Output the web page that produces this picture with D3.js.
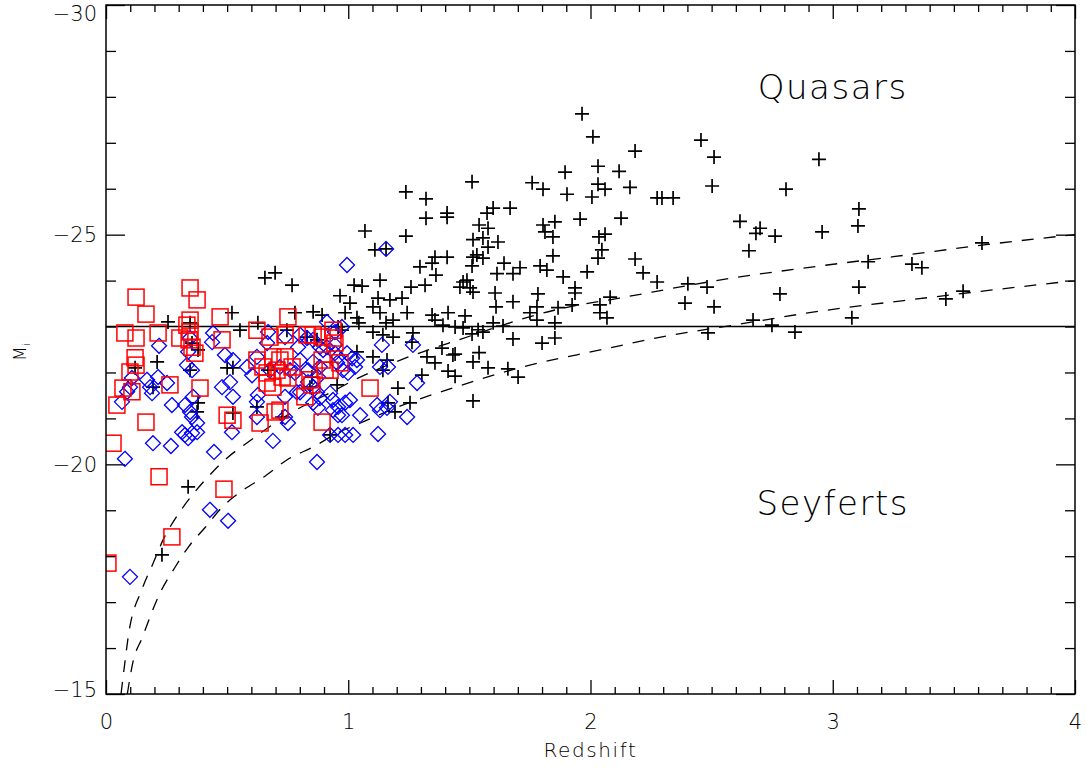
<!DOCTYPE html>
<html>
<head>
<meta charset="utf-8">
<script src="https://cdn.jsdelivr.net/npm/d3@7"></script>
<style>
  body { margin: 0; background: #fff; }
  text { font-family: "DejaVu Sans", sans-serif; font-weight: 200; fill: #000; }
  .axis text { font-size: 21px; }
  .axis path { display: none; }
  .axis line { stroke: #000; stroke-width: 1.3; }
</style>
</head>
<body>
<div id="chart"></div>
<script>
// redshift / absolute magnitude pairs [z, Mi]
var quasars = [
  [1.965,-27.63],[2.010,-27.13],[2.184,-26.82],[2.456,-27.06],[2.510,-26.69],[2.943,-26.64],
  [1.895,-26.36],[2.031,-26.49],[2.118,-26.38],[2.031,-26.10],[2.060,-25.99],[2.163,-26.03],
  [2.502,-26.06],[2.807,-25.99],[1.903,-25.88],[2.006,-25.82],[2.275,-25.80],[2.295,-25.80],
  [2.341,-25.80],[1.957,-25.34],[2.126,-25.36],[2.617,-25.29],[2.700,-25.14],[2.683,-25.03],
  [2.762,-24.97],[2.035,-24.95],[2.060,-25.01],[2.047,-24.67],[2.031,-24.49],[2.184,-24.47],
  [2.654,-24.65],[1.887,-24.08],[1.986,-24.19],[2.217,-24.17],[2.275,-23.97],[1.936,-23.84],
  [1.936,-23.73],[2.402,-23.93],[2.481,-23.86],[2.081,-23.64],[1.924,-23.47],[2.039,-23.47],
  [2.782,-23.71],[2.390,-23.51],[2.510,-23.43],[2.039,-23.30],[2.068,-23.19],[2.671,-23.14],
  [2.749,-23.03],[2.485,-22.86],[2.844,-22.88],
  [3.108,-25.56],[3.104,-25.19],[2.956,-25.06],[3.616,-24.82],[3.146,-24.41],[3.327,-24.36],
  [3.368,-24.28],[3.108,-23.86],[3.538,-23.77],[3.467,-23.60],[3.079,-23.19],
  [1.511,-26.15],[1.759,-26.13],[1.804,-25.99],[1.408,-25.47],[1.408,-25.38],[1.598,-25.58],
  [1.573,-25.47],[1.668,-25.58],[1.540,-25.21],[1.577,-25.14],[1.515,-24.89],[1.556,-24.93],
  [1.618,-24.84],[1.577,-24.73],[1.804,-25.21],[1.853,-25.28],[1.812,-25.06],[1.845,-24.95],
  [1.408,-24.51],[1.515,-24.51],[1.531,-24.56],[1.556,-24.49],[1.511,-24.32],[1.845,-24.54],
  [1.643,-24.38],[1.709,-24.28],[1.614,-24.15],[1.680,-24.15],[1.792,-24.32],[1.820,-24.23],
  [1.474,-23.97],[1.503,-23.84],[1.515,-23.75],[1.461,-23.86],[1.606,-23.73],[1.783,-23.71],
  [1.680,-23.54],[1.610,-23.43],[1.412,-23.30],[1.482,-23.23],[1.779,-23.43],[1.866,-23.41],
  [1.750,-23.30],[1.598,-23.08],[1.639,-23.01],[1.779,-23.14],[1.853,-23.08],[1.391,-23.03],
  [1.441,-22.99],[1.474,-22.97],[1.536,-22.93],[1.556,-22.88],[1.511,-22.84],[1.680,-22.73],
  [1.853,-22.75],[1.800,-22.64],[1.441,-22.40],[1.387,-22.53],[1.540,-22.43],[1.515,-22.23],
  [1.577,-22.10],[1.659,-22.08],[1.701,-21.90],[1.412,-22.03],[1.441,-21.92],[1.515,-21.38],
  [1.238,-25.93],[1.321,-25.78],[1.321,-25.36],[1.069,-25.08],[1.238,-24.97],[1.110,-24.67],
  [1.156,-24.69],[1.296,-24.30],[1.346,-24.38],[1.358,-24.51],[1.362,-24.12],[1.490,-24.01],
  [1.024,-23.90],[1.057,-23.88],[1.131,-24.01],[0.966,-23.67],[1.007,-23.51],[1.259,-23.86],
  [1.317,-23.90],[1.123,-23.62],[1.172,-23.58],[1.222,-23.62],[1.102,-23.43],[1.131,-23.30],
  [1.243,-23.30],[0.987,-23.30],[1.036,-23.19],[1.044,-23.08],[1.346,-23.25],[1.358,-23.14],
  [1.156,-23.08],[1.185,-23.14],[1.102,-22.88],[1.143,-22.82],[1.185,-22.77],[1.267,-22.86],
  [1.263,-22.66],[0.958,-22.99],
  [0.768,-23.90],[0.780,-23.30],[0.855,-23.32],[0.892,-23.25],[0.747,-22.92],[0.830,-22.77],
  [0.871,-22.71],[0.974,-22.92],[1.325,-22.34],[1.358,-22.21],[1.432,-22.38],[1.036,-22.45],
  [1.102,-22.34],[1.160,-22.27],[1.143,-22.05],[1.304,-21.94],[1.205,-21.66],[1.255,-21.34],
  [1.193,-21.14],[1.164,-21.34],[0.954,-21.73],[0.850,-21.90],[0.842,-21.68],
  [0.656,-24.06],[0.698,-24.17],[0.520,-23.30],[0.256,-23.10],[0.347,-23.08],[0.553,-22.92],
  [0.627,-23.08],[0.355,-22.64],[0.380,-22.49],[0.211,-22.23],[0.120,-22.10],[0.347,-22.05],
  [0.500,-22.10],[0.524,-22.10],[0.194,-21.68],[0.380,-21.34],[0.376,-21.14],[0.524,-21.12],
  [0.623,-21.25],[0.727,-21.03],[0.669,-22.05],[0.339,-19.51],[0.231,-18.03],[0.925,-20.64]
];

var seyfertsA = [
  [0.442,-22.86],[0.438,-22.66],[0.219,-22.58],[0.491,-22.38],[0.339,-22.45],[0.347,-22.75],
  [0.524,-22.27],[0.334,-22.16],[0.355,-22.05],[0.169,-21.84],[0.107,-21.88],[0.215,-21.90],
  [0.182,-21.68],[0.190,-21.55],[0.099,-21.68],[0.087,-21.58],[0.252,-21.77],[0.479,-21.68],
  [0.512,-21.79],[0.524,-21.47],[0.359,-21.47],[0.326,-21.29],[0.347,-21.14],[0.355,-21.03],
  [0.272,-21.29],[0.376,-20.90],[0.623,-21.36],[0.627,-21.51],[0.582,-22.12],[0.603,-21.94],
  [0.677,-22.05],[0.718,-22.12],[0.623,-21.03],[0.739,-21.03],[0.751,-20.90],[0.665,-22.64],
  [0.623,-22.34],[0.669,-22.88],[0.788,-21.57],[0.739,-21.47],[0.066,-21.36],
  [0.078,-20.12],[0.099,-17.55],[0.194,-20.46],[0.268,-20.40],[0.446,-20.27],[0.520,-20.70],
  [0.689,-20.51],[0.871,-20.05],[0.925,-20.64],[0.958,-20.64],[0.987,-20.64],[1.020,-20.64],
  [1.123,-20.66],[0.429,-19.01],[0.504,-18.77],[0.314,-20.70],[0.326,-20.64],[0.339,-20.57],
  [0.355,-20.68],[0.376,-20.70],
  [0.995,-24.34],[0.912,-23.10],[0.945,-22.88],[0.974,-22.99],[0.801,-22.82],[0.830,-22.75],
  [0.855,-22.71],[0.739,-22.77],[0.793,-22.55],[0.883,-22.55],[0.896,-22.49],[0.912,-22.55],
  [0.945,-22.60],[0.945,-22.42],[0.958,-22.34],[0.995,-22.42],[1.016,-22.31],[1.036,-22.27],
  [1.028,-22.12],[0.999,-21.99],[0.978,-22.05],[0.954,-22.21],[0.801,-22.27],[0.760,-22.05],
  [0.780,-21.99],[0.834,-22.05],[0.834,-21.79],[0.875,-21.90],[0.855,-21.68],[0.871,-21.57],
  [0.883,-21.44],[0.925,-21.55],[0.937,-21.40],[0.958,-21.25],[0.987,-21.34],[1.007,-21.40],
  [0.937,-21.18],[0.958,-21.07],[0.974,-21.07],[1.049,-21.07],[1.119,-21.29],[1.131,-21.18],
  [1.160,-21.23],[1.172,-21.36],[1.243,-21.03],[1.284,-21.77],[1.131,-22.12],[1.164,-22.12],
  [1.139,-22.60],[1.267,-22.60],[0.855,-21.34],[0.875,-21.23],[0.801,-21.57],[0.855,-22.23],
  [0.883,-22.12],[1.156,-24.69]
];

var seyfertsB = [
  [0.347,-23.84],[0.376,-23.58],[0.124,-23.64],[0.165,-23.27],[0.078,-22.86],[0.124,-22.75],
  [0.215,-22.86],[0.305,-22.75],[0.334,-23.03],[0.347,-23.14],[0.347,-22.88],[0.343,-22.71],
  [0.355,-22.55],[0.367,-22.42],[0.471,-23.21],[0.479,-22.71],[0.120,-22.32],[0.124,-22.16],
  [0.099,-22.01],[0.070,-21.66],[0.107,-21.58],[0.045,-21.29],[0.165,-20.92],[0.264,-21.73],
  [0.388,-21.66],[0.500,-21.07],[0.524,-20.96],[0.751,-23.21],[0.623,-22.92],[0.677,-22.77],
  [0.623,-22.27],[0.648,-22.12],[0.689,-22.34],[0.718,-22.27],[0.739,-22.34],[0.768,-22.12],
  [0.665,-21.99],[0.706,-22.05],[0.727,-21.90],[0.665,-21.77],[0.689,-21.68],[0.751,-21.88],
  [0.698,-21.14],[0.636,-20.90],[0.739,-22.82],[0.029,-20.46],[0.219,-19.73],[0.272,-18.42],
  [0.487,-19.46],[0.008,-17.85],[0.830,-22.82],[0.855,-22.82],[0.892,-22.77],[0.937,-22.92],
  [0.937,-22.75],[0.945,-22.64],[0.904,-22.05],[0.925,-22.05],[0.892,-22.27],[0.966,-22.21],
  [0.842,-21.84],[0.850,-21.73],[0.821,-21.47],[1.090,-21.66],[0.892,-20.92],[0.718,-21.18]
];

// flux-limit curves
var limitBright = [
  [0.062,-15.0],[0.078,-15.69],[0.091,-16.22],[0.15,-17.3],[0.195,-17.85],[0.235,-18.35],
  [0.29,-18.85],[0.35,-19.29],[0.42,-19.72],[0.50,-20.14],[0.58,-20.46],[0.77,-21.14],
  [0.94,-21.6],[1.03,-21.85],[1.23,-22.3],[1.45,-22.7],[1.87,-23.38],[2.12,-23.62],
  [2.59,-24.06],[2.92,-24.3],[3.25,-24.52],[3.66,-24.8],[4.0,-25.0]
];
var limitFaint = [
  [0.088,-15.0],[0.111,-15.69],[0.149,-16.22],[0.223,-17.2],[0.285,-17.76],[0.34,-18.2],
  [0.41,-18.63],[0.48,-19.07],[0.566,-19.44],[0.65,-19.72],[0.745,-20.09],[0.87,-20.42],
  [0.94,-20.64],[1.05,-20.9],[1.23,-21.3],[1.43,-21.66],[1.72,-22.12],[2.04,-22.49],
  [2.29,-22.77],[2.59,-23.03],[2.89,-23.29],[3.41,-23.64],[4.0,-24.0]
];

var xMajor = [0, 1, 2, 3, 4];
var yMajor = [-30, -25, -20, -15];
var quasarCut = -23;

var W = 1086, H = 770;
var margin = {top: 5, right: 11, bottom: 76, left: 106};
var width = W - margin.left - margin.right,
    height = H - margin.top - margin.bottom;

var x = d3.scaleLinear().domain([0, 4]).range([0, width]);
var y = d3.scaleLinear().domain([-30, -15]).range([0, height]);

var svg = d3.select("#chart").append("svg")
    .attr("width", W)
    .attr("height", H);

var g = svg.append("g")
    .attr("transform", "translate(" + margin.left + "," + margin.top + ")");

g.append("clipPath").attr("id", "clip")
  .append("rect").attr("width", width).attr("height", height);

var xMinor = d3.range(0, 41).map(function(d) { return d / 10; }).filter(function(d) { return xMajor.indexOf(d) < 0; });
var yMinor = d3.range(-30, -14).filter(function(d) { return yMajor.indexOf(d) < 0; });

// ticks on all four sides, pointing inward
g.append("g").attr("class", "axis")
    .attr("transform", "translate(0," + height + ")")
    .call(d3.axisBottom(x).tickValues(xMajor).tickSize(-14).tickPadding(20).tickFormat(d3.format("d")));
g.append("g").attr("class", "axis")
    .attr("transform", "translate(0," + height + ")")
    .call(d3.axisBottom(x).tickValues(xMinor).tickSize(-7).tickFormat(""));
g.append("g").attr("class", "axis")
    .call(d3.axisTop(x).tickValues(xMajor).tickSize(-14).tickFormat(""));
g.append("g").attr("class", "axis")
    .call(d3.axisTop(x).tickValues(xMinor).tickSize(-7).tickFormat(""));

var yAxisG = g.append("g").attr("class", "axis")
    .call(d3.axisLeft(y).tickValues(yMajor).tickSize(-19).tickPadding(9).tickFormat(d3.format("d")));
// keep the end labels inside the frame height, as in the original
yAxisG.selectAll("text")
    .attr("dy", function(d) { return d === -30 ? "0.75em" : (d === -15 ? "0.1em" : "0.32em"); });
g.append("g").attr("class", "axis")
    .call(d3.axisLeft(y).tickValues(yMinor).tickSize(-10).tickFormat(""));
g.append("g").attr("class", "axis")
    .attr("transform", "translate(" + width + ",0)")
    .call(d3.axisRight(y).tickValues(yMajor).tickSize(-19).tickFormat(""));
g.append("g").attr("class", "axis")
    .attr("transform", "translate(" + width + ",0)")
    .call(d3.axisRight(y).tickValues(yMinor).tickSize(-10).tickFormat(""));

var plot = g.append("g").attr("clip-path", "url(#clip)");

// luminosity cut and survey limits
plot.append("line")
    .attr("x1", 0).attr("x2", width)
    .attr("y1", y(quasarCut)).attr("y2", y(quasarCut))
    .attr("stroke", "#000").attr("stroke-width", 1.5);

var line = d3.line()
    .x(function(d) { return x(d[0]); })
    .y(function(d) { return y(d[1]); })
    .curve(d3.curveMonotoneX);

[limitBright, limitFaint].forEach(function(c) {
  plot.append("path")
      .attr("d", line(c))
      .attr("fill", "none")
      .attr("stroke", "#000")
      .attr("stroke-width", 1.3)
      .attr("stroke-dasharray", "12,10");
});

plot.selectAll(".qso")
    .data(quasars)
  .enter().append("path")
    .attr("class", "qso")
    .attr("transform", function(d) { return "translate(" + x(d[0]) + "," + y(d[1]) + ")"; })
    .attr("d", "M-7,0H7M0,-7V7")
    .attr("stroke", "#000")
    .attr("stroke-width", 1.7)
    .attr("fill", "none");

plot.selectAll(".sya")
    .data(seyfertsA)
  .enter().append("path")
    .attr("class", "sya")
    .attr("transform", function(d) { return "translate(" + x(d[0]) + "," + y(d[1]) + ")"; })
    .attr("d", "M0,-7.5L7.5,0L0,7.5L-7.5,0Z")
    .attr("stroke", "#0000ff")
    .attr("stroke-width", 1.3)
    .attr("fill", "none");

plot.selectAll(".syb")
    .data(seyfertsB)
  .enter().append("rect")
    .attr("class", "syb")
    .attr("x", function(d) { return x(d[0]) - 8; })
    .attr("y", function(d) { return y(d[1]) - 8; })
    .attr("width", 16)
    .attr("height", 16)
    .attr("stroke", "#ff0000")
    .attr("stroke-width", 1.5)
    .attr("fill", "none");

// frame
g.append("rect")
    .attr("width", width).attr("height", height)
    .attr("fill", "none")
    .attr("stroke", "#000")
    .attr("stroke-width", 1.5);

g.append("text")
    .attr("x", x(3.0)).attr("y", y(-28.0) + 2)
    .attr("text-anchor", "middle")
    .style("font-size", "34px")
    .style("letter-spacing", "1.5px")
    .text("Quasars");

g.append("text")
    .attr("x", x(3.0)).attr("y", y(-19.0) + 5)
    .attr("text-anchor", "middle")
    .style("font-size", "34px")
    .style("letter-spacing", "1.5px")
    .text("Seyferts");

svg.append("text")
    .attr("x", margin.left + width / 2).attr("y", 757)
    .attr("text-anchor", "middle")
    .style("font-size", "20px")
    .style("letter-spacing", "1.6px")
    .text("Redshift");

var yl = svg.append("text")
    .attr("transform", "translate(26,361) rotate(-90)")
    .style("font-size", "17px");
yl.append("tspan").text("M");
yl.append("tspan").attr("dy", 4).style("font-size", "11px").text("i");
</script>
</body>
</html>
